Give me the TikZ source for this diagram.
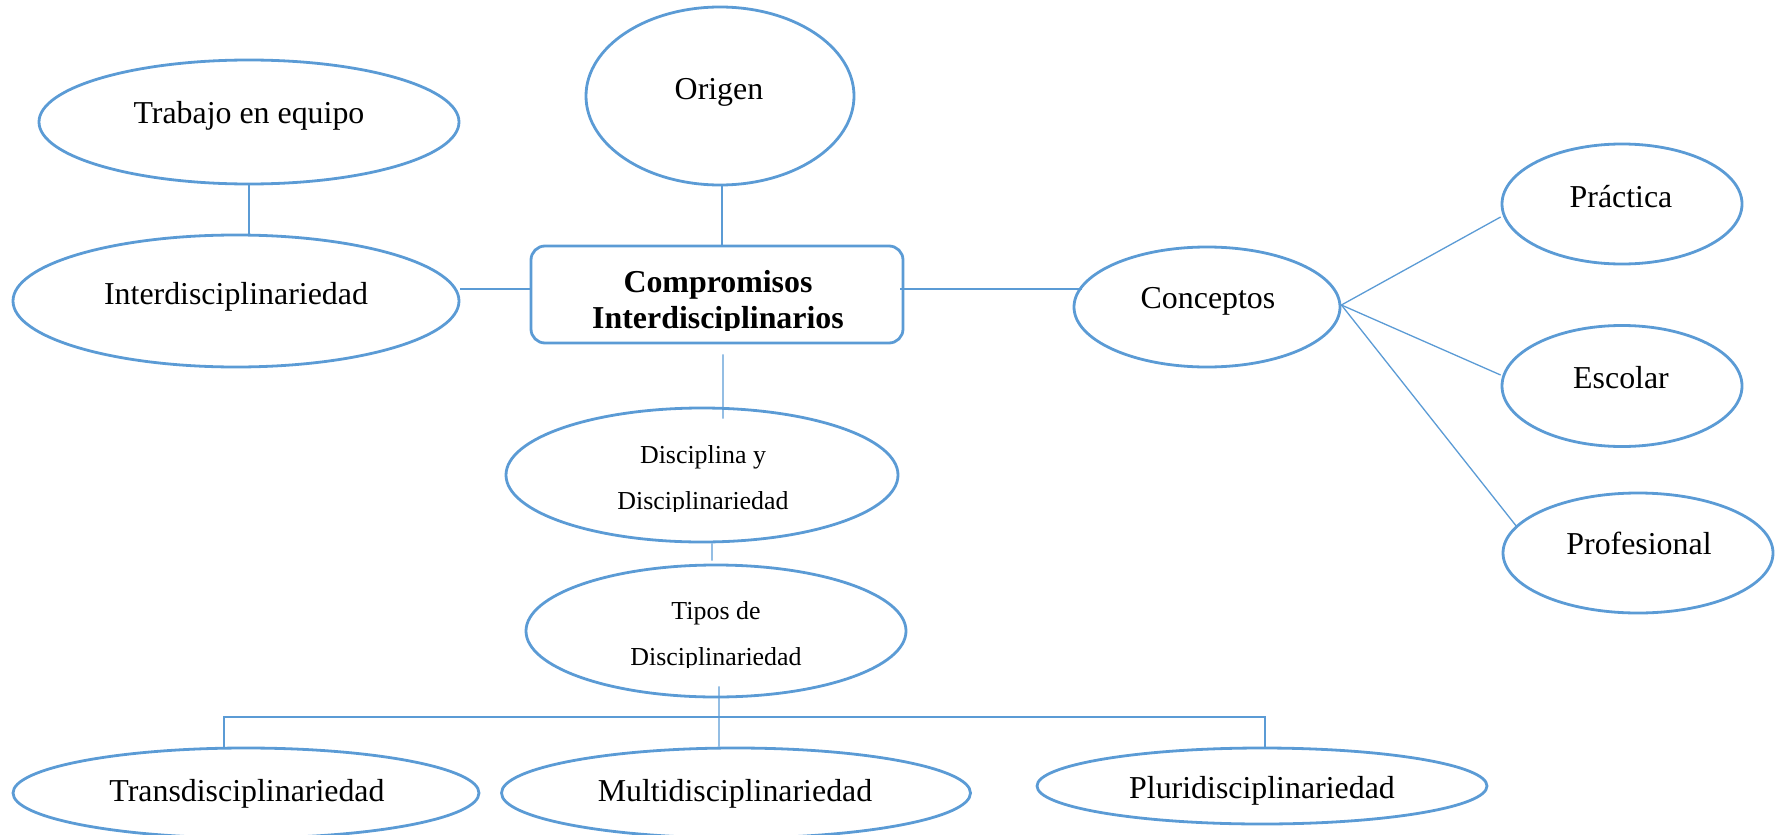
\documentclass[tikz,border=0pt]{standalone}
\usepackage{fontspec}
\setmainfont{Liberation Serif}
\usetikzlibrary{shapes.geometric,calc}
\definecolor{wblue}{RGB}{91,155,213}
\tikzset{
  oval/.style={draw=wblue,line width=2.8bp,ellipse,inner sep=0pt,fill=none},
  conn/.style={draw=wblue,line width=1.3bp},
  big/.style={inner sep=0pt,anchor=base,font=\fontsize{32}{36}\selectfont},
  small/.style={inner sep=0pt,anchor=base,font=\fontsize{26}{30}\selectfont},
  bold/.style={inner sep=0pt,anchor=base,font=\fontsize{32}{36}\selectfont\bfseries}
}
\begin{document}
\begin{tikzpicture}[x=1bp,y=-1bp]
\useasboundingbox (0,0) rectangle (1775,835);
\clip (0,0) rectangle (1775,835);
% shapes
\node[oval,minimum width=420bp,minimum height=124bp] (trab) at (249,122) {};
\node[oval,minimum width=268bp,minimum height=178bp] (orig) at (720,96) {};
\node[oval,minimum width=446bp,minimum height=132bp] (inter) at (236,301) {};
\node[draw=wblue,line width=2.8bp,rounded corners=14bp,minimum width=372bp,minimum height=97bp,inner sep=0pt] (box) at (717,294.5) {};
\node[oval,minimum width=266bp,minimum height=120bp] (conc) at (1207,307) {};
\node[oval,minimum width=240bp,minimum height=120bp] (prac) at (1622,204) {};
\node[oval,minimum width=240bp,minimum height=121bp] (esc) at (1622,386) {};
\node[oval,minimum width=270bp,minimum height=120bp] (prof) at (1638,553) {};
\node[oval,minimum width=392bp,minimum height=134bp] (disc) at (702,475) {};
\node[oval,minimum width=380bp,minimum height=132bp] (tipos) at (716,631) {};
\node[oval,minimum width=466bp,minimum height=90bp] (trans) at (246,793) {};
\node[oval,minimum width=469bp,minimum height=90bp] (multi) at (736,793) {};
\node[oval,minimum width=450bp,minimum height=76bp] (pluri) at (1262,786) {};
% connectors
\draw[conn] (trab.south) -- (trab.south |- inter.north);
\draw[conn] ([xshift=2bp]orig.south) -- ([xshift=2bp]orig.south |- box.north);
\draw[conn] ([yshift=5.5bp]box.west) coordinate (bw) -- (inter.east |- bw);
\draw[conn] ([yshift=5.5bp,xshift=-4bp]box.east) coordinate (be) -- ([xshift=9bp]conc.west |- be);
\draw[conn] ([xshift=6bp,yshift=-10bp]box.south) -- ([xshift=21bp,yshift=-12bp]disc.north);
\draw[conn] ([xshift=10bp]disc.south) -- ([xshift=-4bp,yshift=3bp]tipos.north);
\draw[conn] ([xshift=3bp,yshift=12bp]tipos.south) -- ([xshift=-17bp]multi.north);
\coordinate (bus) at (0,717);
\draw[conn] ([xshift=-22bp]trans.north) -- ([xshift=-22bp]trans.north |- bus) -- ([xshift=3bp]pluri.north |- bus) -- ([xshift=3bp]pluri.north);
\draw[conn] ([yshift=2bp]conc.east) -- ([yshift=-13bp]prac.west);
\draw[conn] ([yshift=2bp]conc.east) -- ([yshift=11bp]esc.west);
\draw[conn] ([yshift=2bp]conc.east) -- ([xshift=-121bp,yshift=26bp]prof.center);
% texts
\node[big] (ttrab) at (249,123) {Trabajo en equipo};
\node[big] (torig) at (719,99) {Origen};
\node[big] (tinter) at (236,304) {Interdisciplinariedad};
\node[bold] (tbox1) at (718,292) {Compromisos};
\begin{scope}
\clip (520,300) rectangle (910,330);
\node[bold] (tbox2) at (718,328) {Interdisciplinarios};
\end{scope}
\node[big] (tconc) at (1208,308) {Conceptos};
\node[big] (tprac) at (1621,207) {Práctica};
\node[big] (tesc) at (1621,388) {Escolar};
\node[big] (tprof) at (1639,554) {Profesional};
\node[small] (tdisc1) at (703,463) {Disciplina y};
\begin{scope}
\clip (500,470) rectangle (900,511);
\node[small] (tdisc2) at (703,509) {Disciplinariedad};
\end{scope}
\node[small] (ttip1) at (716,619) {Tipos de};
\begin{scope}
\clip (520,625) rectangle (910,667);
\node[small] (ttip2) at (716,665) {Disciplinariedad};
\end{scope}
\node[big] (ttrans) at (247,801) {Transdisciplinariedad};
\node[big] (tmulti) at (735,801) {Multidisciplinariedad};
\node[big] (tpluri) at (1262,798) {Pluridisciplinariedad};
\end{tikzpicture}
\end{document}
